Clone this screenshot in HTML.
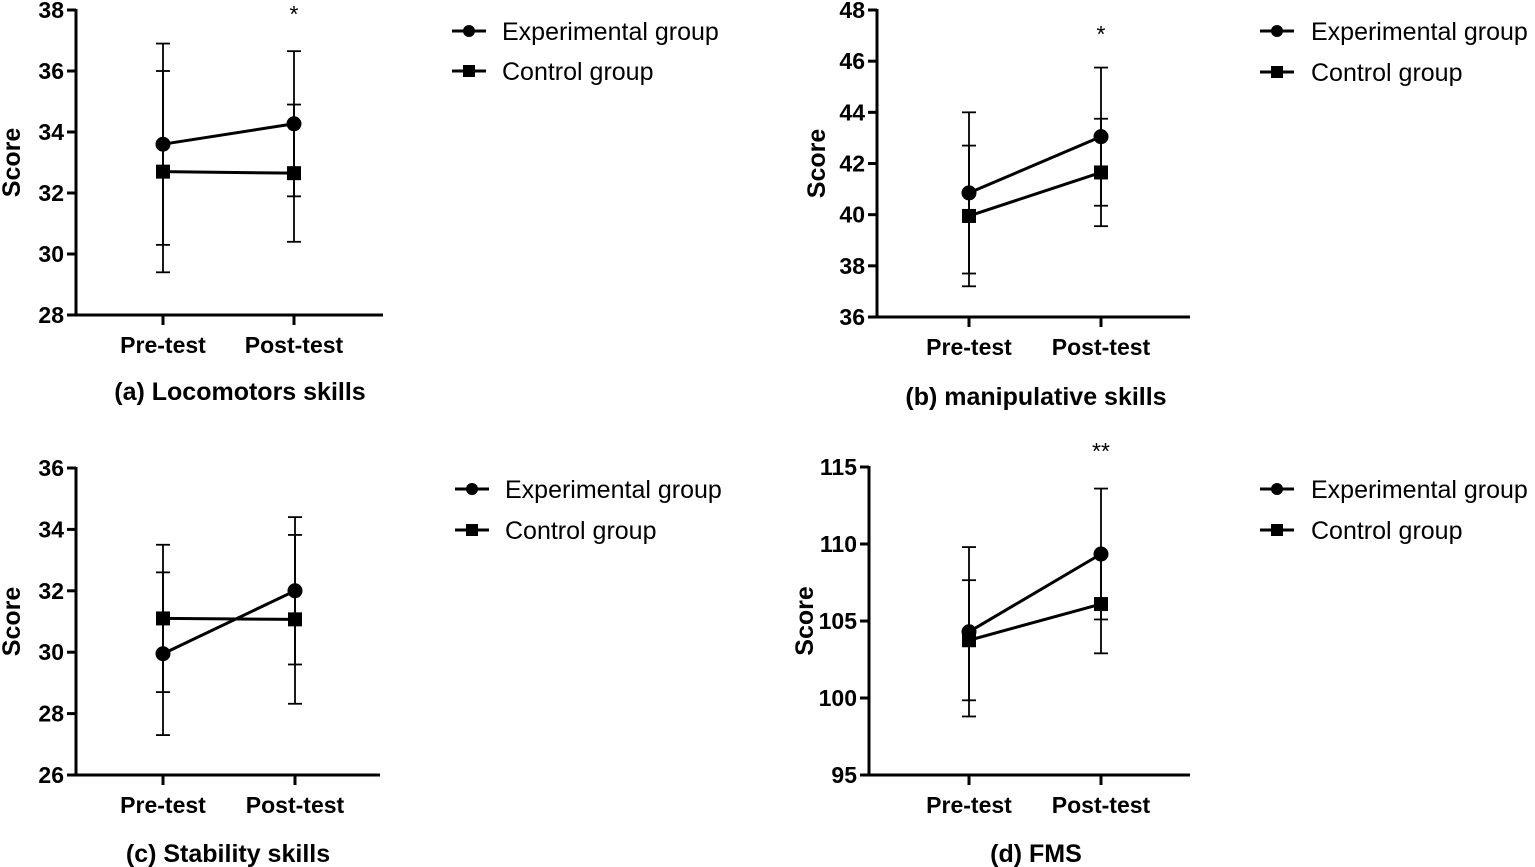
<!DOCTYPE html>
<html><head><meta charset="utf-8"><style>
html,body{margin:0;padding:0;background:#fff;}
svg{display:block;font-family:"Liberation Sans",Arial,sans-serif;}
</style></head><body>
<svg id="fig" width="1535" height="867" viewBox="0 0 1535 867"></svg>
<script>
const categories = ["Pre-test","Post-test"];
const panelTitles = ["(a) Locomotors skills","(b) manipulative skills","(c) Stability skills","(d) FMS"];
const expMeans = [[33.6,34.27],[40.85,43.05],[29.95,32.0],[104.3,109.35]];
const expErr = [[3.3,2.38],[3.15,2.7],[2.65,2.4],[5.5,4.25]];
const ctrlMeans = [[32.7,32.65],[39.95,41.65],[31.1,31.07],[103.75,106.1]];
const ctrlErr = [[3.3,2.25],[2.75,2.1],[2.4,2.75],[3.9,3.2]];
const yTicks = [[28,30,32,34,36,38],[36,38,40,42,44,46,48],[26,28,30,32,34,36],[95,100,105,110,115]];
const signif = ["*","*","","**"];
const legendLabels = ["Experimental group","Control group"];

const layout = [
 {ax:76,x2:383,top:10,bot:315,px:[163,294],title:[240,391],score:12,leg:[452,502,31,71],star:10},
 {ax:877,x2:1190,top:10,bot:317,px:[969,1101],title:[1036,396],score:817,leg:[1260,1311,31,72],star:30},
 {ax:76,x2:380,top:468,bot:775,px:[163,295],title:[228,853],score:12,leg:[455,505,489,530],star:0},
 {ax:869,x2:1190,top:467,bot:775,px:[969,1101],title:[1036,853],score:805,leg:[1260,1311,489,530],star:447}
];
const NS="http://www.w3.org/2000/svg";
const svg=document.getElementById('fig');
function mk(tag,attrs,parent){const e=document.createElementNS(NS,tag);for(const k in attrs)e.setAttribute(k,attrs[k]);(parent||svg).appendChild(e);return e;}

layout.forEach((L,p)=>{
  const g=mk('g',{});
  
  
  const t=yTicks[p], ymin=t[0], ymax=t[t.length-1];
  const y=v=>L.bot-(v-ymin)/(ymax-ymin)*(L.bot-L.top);
  const ya=mk('line',{x1:L.ax,y1:L.top-1,x2:L.ax,y2:L.bot+1.5,stroke:'#000','stroke-width':3},g);
  
  const xa=mk('line',{x1:L.ax-1.5,y1:L.bot,x2:L.x2,y2:L.bot,stroke:'#000','stroke-width':3},g);
  
  t.forEach(v=>{
    mk('line',{x1:L.ax-9,y1:y(v),x2:L.ax,y2:y(v),stroke:'#000','stroke-width':3},g);
    const tx=mk('text',{x:L.ax-12,y:y(v)+8,'text-anchor':'end','font-size':23,'font-weight':'bold'},g);
    tx.textContent=v;
    
  });
  categories.forEach((c,i)=>{
    mk('line',{x1:L.px[i],y1:L.bot,x2:L.px[i],y2:L.bot+10,stroke:'#000','stroke-width':3},g);
    const tx=mk('text',{x:L.px[i],y:L.bot+38,'text-anchor':'middle','font-size':23,'font-weight':'bold'},g);
    tx.textContent=c;
    
  });
  const st=mk('text',{x:0,y:0,'text-anchor':'middle','font-size':25,'font-weight':'bold',transform:`translate(${L.score+8},${(L.top+L.bot)/2}) rotate(-90)`},g);
  st.textContent='Score';
  
  const ti=mk('text',{x:L.title[0],y:L.title[1]+9,'text-anchor':'middle','font-size':25,'font-weight':'bold'},g);
  ti.textContent=panelTitles[p];
  
  [[ctrlMeans,ctrlErr,'sq'],[expMeans,expErr,'ci']].forEach(([M,E,shape])=>{
    const m=M[p], e=E[p];
    m.forEach((v,i)=>{
      const eb=mk('g',{},g);
      
      mk('line',{x1:L.px[i],y1:y(v+e[i]),x2:L.px[i],y2:y(v-e[i]),stroke:'#000','stroke-width':1.8},eb);
      mk('line',{x1:L.px[i]-7,y1:y(v+e[i]),x2:L.px[i]+7,y2:y(v+e[i]),stroke:'#000','stroke-width':1.8},eb);
      mk('line',{x1:L.px[i]-7,y1:y(v-e[i]),x2:L.px[i]+7,y2:y(v-e[i]),stroke:'#000','stroke-width':1.8},eb);
    });
    const ln=mk('polyline',{points:m.map((v,i)=>L.px[i]+','+y(v)).join(' '),fill:'none',stroke:'#000','stroke-width':3},g);
    
    m.forEach((v,i)=>{
      let mark;
      if(shape==='sq') mark=mk('rect',{x:L.px[i]-7,y:y(v)-7,width:14,height:14,fill:'#000'},g);
      else mark=mk('circle',{cx:L.px[i],cy:y(v),r:7.5,fill:'#000'},g);
      
    });
  });
  if(signif[p]){
    const s=mk('text',{x:L.px[1],y:L.star+12,'text-anchor':'middle','font-size':23},g);
    s.textContent=signif[p];
    
  }
  legendLabels.forEach((lab,i)=>{
    const ly=L.leg[2+i];
    const lg=mk('g',{},g);
    
    mk('line',{x1:L.leg[0],y1:ly,x2:L.leg[0]+34,y2:ly,stroke:'#000','stroke-width':3},lg);
    if(i===0) mk('circle',{cx:L.leg[0]+17,cy:ly,r:6,fill:'#000'},lg);
    else mk('rect',{x:L.leg[0]+11,y:ly-6,width:12,height:12,fill:'#000'},lg);
    const tx=mk('text',{x:L.leg[1],y:ly+9,'font-size':25},lg);
    tx.textContent=lab;
  });
});
</script>
</body></html>
